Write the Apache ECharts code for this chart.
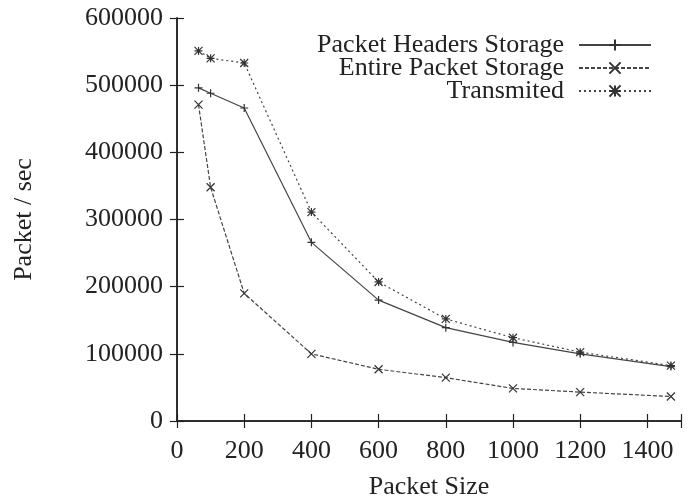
<!DOCTYPE html>
<html>
<head>
  <meta charset="utf-8">
  <title>Packet / sec vs Packet Size</title>
  <script src="https://cdn.jsdelivr.net/npm/echarts@6/dist/echarts.min.js"></script>
  <style>
    html, body, #chart { margin: 0; padding: 0; width: 690px; height: 501px; background: #fff; }
  </style>
</head>
<body>
  <div id="chart"></div>
  <script>
    var packetSize = [64, 100, 200, 400, 600, 800, 1000, 1200, 1470];
    var headersStorage = [496000, 488000, 466000, 266000, 180000, 139000, 117000, 100000, 81000];
    var entireStorage = [471000, 348000, 190000, 100000, 77000, 64500, 48500, 43000, 36500];
    var transmited = [551000, 540000, 533000, 311000, 207000, 152000, 124000, 102500, 82500];

    var FONT = 'Liberation Serif';
    var FS = 26;
    var INK = '#222';

    // gnuplot-like point types, drawn as strokes
    var plusSym = 'path://M5,0L5,10M0,5L10,5';
    var crossSym = 'path://M0,0L10,10M10,0L0,10';
    var starSym = 'path://M0,0L10,10M10,0L0,10M5,0L5,10M0,5L10,5';

    function pairs(ys) {
      return packetSize.map(function (x, i) { return [x, ys[i]]; });
    }

    function lineSeries(name, ys, sym, dash) {
      return {
        name: name,
        type: 'line',
        data: pairs(ys),
        symbol: sym,
        symbolSize: 8,
        showSymbol: true,
        lineStyle: { color: '#444', width: 1.2, type: dash },
        itemStyle: { color: '#333', borderColor: '#333', borderWidth: 1.2 }
      };
    }

    var chart = echarts.init(document.getElementById('chart'));
    chart.setOption({
      animation: false,
      backgroundColor: '#fff',
      textStyle: { fontFamily: FONT },
      grid: { left: 177, right: 9, top: 18, bottom: 80, containLabel: false, outerBoundsMode: 'none' },
      legend: {
        orient: 'vertical',
        right: 33,
        top: 27,
        align: 'right',
        itemWidth: 72,
        itemHeight: 14,
        itemGap: -3,
        textStyle: { fontFamily: FONT, fontSize: FS, lineHeight: 23, color: INK, padding: [0, 10, 0, 0] },
        data: ['Packet Headers Storage', 'Entire Packet Storage', 'Transmited']
      },
      xAxis: [{
        type: 'value',
        min: 0,
        max: 1500,
        interval: 200,
        name: 'Packet Size',
        nameLocation: 'middle',
        nameGap: 53,
        nameTextStyle: { fontFamily: FONT, fontSize: FS, color: INK },
        axisLine: { lineStyle: { color: INK, width: 1.5 } },
        axisTick: { inside: true, length: 7, lineStyle: { color: INK, width: 1.2 } },
        axisLabel: {
          fontFamily: FONT, fontSize: FS, color: INK, margin: 17,
          formatter: function (v) { return v > 1400 ? '' : String(v); }
        },
        splitLine: { show: false }
      }, {
        type: 'value',
        position: 'top',
        min: 0,
        max: 1500,
        interval: 200,
        axisLine: { lineStyle: { color: INK, width: 1.5 } },
        axisTick: { inside: true, length: 7, lineStyle: { color: INK, width: 1.2 } },
        axisLabel: { show: false },
        splitLine: { show: false }
      }],
      yAxis: [{
        type: 'value',
        min: 0,
        max: 600000,
        interval: 100000,
        name: 'Packet / sec',
        nameLocation: 'middle',
        nameGap: 140,
        nameTextStyle: { fontFamily: FONT, fontSize: FS, color: INK },
        axisLine: { show: true, lineStyle: { color: INK, width: 1.5 } },
        axisTick: { show: true, inside: true, length: 7, lineStyle: { color: INK, width: 1.2 } },
        axisLabel: {
          fontFamily: FONT, fontSize: FS, color: INK, margin: 14,
          formatter: function (v) { return String(v); }
        },
        splitLine: { show: false }
      }, {
        type: 'value',
        position: 'right',
        min: 0,
        max: 600000,
        interval: 100000,
        axisLine: { show: true, lineStyle: { color: INK, width: 1.5 } },
        axisTick: { show: true, inside: true, length: 7, lineStyle: { color: INK, width: 1.2 } },
        axisLabel: { show: false },
        splitLine: { show: false }
      }],
      series: [
        lineSeries('Packet Headers Storage', headersStorage, plusSym, 'solid'),
        lineSeries('Entire Packet Storage', entireStorage, crossSym, [4, 2]),
        lineSeries('Transmited', transmited, starSym, [2, 3])
      ]
    });
  </script>
</body>
</html>
